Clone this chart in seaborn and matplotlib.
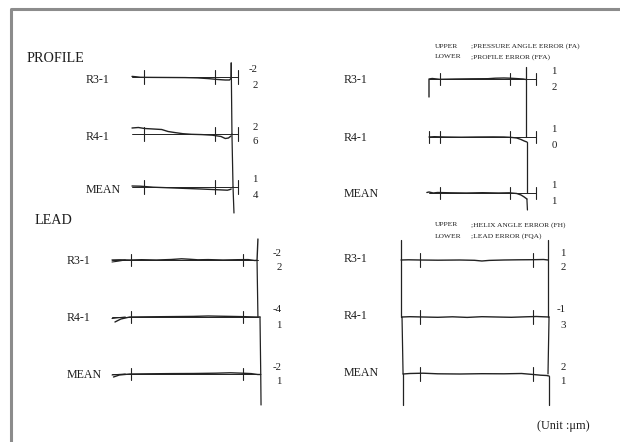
import numpy as np
import matplotlib
matplotlib.use("Agg")
import matplotlib.pyplot as plt
import seaborn as sns

# measured results (um), upper = angle error, lower = form error
ROWS = ["R3-1", "R4-1", "MEAN"]
PROF_L_FA = ["-2", "2", "1"]
PROF_L_FFA = ["2", "6", "4"]
PROF_R_FA = ["1", "1", "1"]
PROF_R_FFA = ["2", "0", "1"]
LEAD_L_FH = ["-2", "-4", "-2"]
LEAD_L_FQA = ["2", "1", "1"]
LEAD_R_FH = ["1", "-1", "2"]
LEAD_R_FQA = ["2", "3", "1"]

# traces: position along evaluation range (%) and deviation
PL_POS = [
    [0, 4, 8, 20, 35, 50, 62, 72, 80, 85, 88, 92, 93.4, 93.6],
    [0, 6, 12, 20, 28, 34, 40, 48, 56, 66, 76, 84, 88, 91, 93.4],
    [0, 8, 20, 35, 50, 65, 78, 86, 90, 92.5, 93.6],
]
PL_DEV = [
    [0.6, 0.2, -0.3, -0.4, -0.5, -0.6, -0.9, -1.6, -2.4, -2.8, -3.0, -3.0, -1.5, 14],
    [6, 6.5, 5.5, 5, 4.5, 2.5, 1.5, 0.3, -0.3, -0.6, -1.2, -2.5, -4.5, -4, -2],
    [1, 0.8, -0.2, -0.8, -1.4, -2, -2.6, -3, -3.2, -2.5, -2],
]
PR_POS = [
    [0, 0, 3, 10, 25, 40, 55, 62, 70, 76, 82, 88, 90.7],
    [0, 5, 15, 30, 45, 60, 70, 76, 82, 86, 89, 91.5],
    [-2, 0, 4, 8, 20, 35, 50, 65, 75, 82, 86, 89, 91.5],
]
PR_DEV = [
    [-18, 0, 0.5, -0.3, 0, 0.2, 0.3, 0.8, 1, 0.8, 0.4, 0, -0.5],
    [0, 0.3, 0, -0.2, 0, 0.1, 0, -0.3, -1, -2.5, -4, -5],
    [0.5, 1, 0, 0.5, 0.2, 0, 0.3, 0, 0.2, -0.5, -2, -4, -6],
]
LL_POS = [
    [0, 5, 12, 20, 30, 40, 47, 52, 58, 65, 75, 85, 92, 96.5, 98, 98.6],
    [2, 6, 12, 25, 40, 55, 65, 72, 80, 90, 97, 100],
    [1, 5, 12, 25, 40, 55, 70, 80, 88, 94, 98.5, 100.5],
]
LL_DEV = [
    [0, 0.2, 0, 0.3, 0, 0.5, 1.2, 0.8, 0.2, 0.4, 0, 0.3, 0.4, -0.5, -0.3, 21],
    [-5, -2, 0, 0.2, 0.4, 0.6, 1, 0.8, 0.6, 0.3, 0, 0],
    [-3, -1, 0, 0.2, 0.4, 0.5, 0.8, 1.2, 0.8, 0.4, -0.5, -0.5],
]
LR_POS = [
    [0, 5, 12.9, 25, 40, 50, 55, 60, 70, 80, 90, 97, 100],
    [0.7, 6, 15, 25, 35, 45, 55, 65, 75, 85, 92, 97, 100.7],
    [1.4, 6, 15, 25, 40, 55, 70, 82, 90, 95, 99, 100.7],
]
LR_DEV = [
    [0, 0.2, 0, -0.2, 0, -0.3, -1, -0.4, 0, 0.2, 0.3, 0.5, 0],
    [0, 0.3, 0, -0.3, 0.2, -0.4, 0.3, 0, -0.3, 0.2, 0.5, 0.2, 0],
    [0, 0.5, 0.8, 0.2, 0, 0.3, 0.2, 0.5, -0.5, -1.2, -1.5, -2],
]
PL_TICKS = [11.3, 78.3, 100]
PR_TICKS = [10.3, 75.7, 100]
LL_TICKS = [12.8, 88.5]
LR_TICKS = [12.9, 89.8]

HEAD_PROF = [";PRESSURE ANGLE ERROR (FA)", ";PROFILE ERROR (FFA)"]
HEAD_LEAD = [";HELIX ANGLE ERROR (FH)", ";LEAD ERROR (FQA)"]

# layout (pixels of the 620x442 sheet)
PANEL_X = {"pl": (132, 238), "pr": (429, 536), "ll": (112, 260), "lr": (401, 548)}
PANEL_BASE = {"pl": (77, 134, 187), "pr": (79, 137, 193), "ll": (260, 317, 374), "lr": (260, 317, 374)}
DEV_PX = 1.0
INK = "#222222"
TXT = "#1e1e1e"

sns.set_theme(style="white")
plt.rcParams["font.family"] = ["Liberation Serif", "DejaVu Serif"]

fig = plt.figure(figsize=(6.2, 4.42), dpi=100)
ax = fig.add_axes([0, 0, 1, 1])


def line(xs, ys, lw=0.9, color=INK):
    sns.lineplot(x=np.asarray(xs, float), y=np.asarray(ys, float), sort=False,
                 estimator=None, color=color, linewidth=lw, ax=ax, legend=False)


def to_xy(key, row, pos, dev):
    x0, x1 = PANEL_X[key]
    base = PANEL_BASE[key][row]
    return x0 + np.asarray(pos, float) / 100 * (x1 - x0), base - np.asarray(dev, float) * DEV_PX


def trace(key, row, pos, dev, lw=1.0):
    x, y = to_xy(key, row, pos, dev)
    line(x, y, lw)


def link(key, ra, pa, da, rb, pb, db):
    xa, ya = to_xy(key, ra, [pa], [da])
    xb, yb = to_xy(key, rb, [pb], [db])
    line([xa[0], xb[0]], [ya[0], yb[0]], 0.9)


def ticks(key, row, plist, h):
    for p in plist:
        trace(key, row, [p, p], [h, -h], 0.8)


# sheet frame
line([11, 11, 620], [442, 9, 9], lw=2.2, color="#8c8c8c")

for key, pos, dev, tk, h in [("pl", PL_POS, PL_DEV, PL_TICKS, 7), ("pr", PR_POS, PR_DEV, PR_TICKS, 6),
                             ("ll", LL_POS, LL_DEV, LL_TICKS, 6), ("lr", LR_POS, LR_DEV, LR_TICKS, 7)]:
    for r in range(3):
        trace(key, r, pos[r], dev[r])
        ticks(key, r, tk, h)

# reference lines
for r in range(3):
    trace("pl", r, [0, 100], [0, 0], 0.7)
    trace("pr", r, [0, 100], [0, 0], 0.7)
    trace("ll", r, [0, 98.6], [0, 0], 0.7)
trace("ll", 0, [0, 4, 9], [-2, -1.2, 0], 0.8)
trace("ll", 1, [0, 4, 9], [-1.5, -0.8, 0], 0.8)
trace("ll", 2, [0, 4, 9], [-1, -0.5, 0], 0.8)
ticks("pr", 1, [0], 6)

# connecting lines between rows
link("pl", 0, 93.6, 14, 1, 94.3, 0)
link("pl", 1, 94.3, 0, 2, 95.3, 0)
link("pl", 2, 95.3, 0, 2, 96.2, -26)
link("pr", 0, 90.7, 12, 1, 90.7, 0)
link("pr", 1, 91.5, -5, 2, 91.5, 0)
link("pr", 2, 91.5, -6, 2, 92, -17)
link("ll", 0, 98.0, -0.5, 1, 98.6, 0)
link("ll", 1, 100, 0, 2, 100.5, 0)
link("ll", 2, 100.5, -0.5, 2, 100.7, -31)
link("lr", 0, 0, 20, 1, 0, 0)
link("lr", 0, 100, 20, 1, 100, 0)
link("lr", 1, 0.7, 0, 2, 1.4, 0)
link("lr", 1, 100.7, 0, 2, 100, 0)
link("lr", 2, 1.4, 0, 2, 1.4, -31)
link("lr", 2, 100.7, -2, 2, 100.7, -31)

# titles
ax.text(27, 59, "PROFILE", fontsize=10.2, va="center", ha="left", color=TXT)
ax.text(35, 221, "LEAD", fontsize=10.2, va="center", ha="left", color=TXT)
for y, head in [(46, HEAD_PROF), (225, HEAD_LEAD)]:
    ax.text(435, y, "UPPER", fontsize=5.4, va="center", ha="left", color=TXT)
    ax.text(435, y + 11, "LOWER", fontsize=5.4, va="center", ha="left", color=TXT)
    ax.text(471, y, head[0], fontsize=5.4, va="center", ha="left", color=TXT)
    ax.text(471, y + 11, head[1], fontsize=5.4, va="center", ha="left", color=TXT)

# row labels and values
for key, lx, ly_off, vx, up, lo in [("pl", 86, 3, 258, PROF_L_FA, PROF_L_FFA),
                                    ("pr", 344, 1, 557, PROF_R_FA, PROF_R_FFA),
                                    ("ll", 67, 1, 282, LEAD_L_FH, LEAD_L_FQA),
                                    ("lr", 344, -1, 566, LEAD_R_FH, LEAD_R_FQA)]:
    for r, name in enumerate(ROWS):
        b = PANEL_BASE[key][r]
        ax.text(lx, b + ly_off, name, fontsize=8.6, va="center", ha="left", color=TXT)
        ax.text(vx, b - 7, up[r], fontsize=7.8, va="center", ha="right", color=TXT)
        ax.text(vx, b + 8, lo[r], fontsize=7.8, va="center", ha="right", color=TXT)

ax.text(590, 426, "(Unit :\u03bcm)", fontsize=8.8, va="center", ha="right", color=TXT)

ax.set_xlim(0, 620)
ax.set_ylim(442, 0)
ax.axis("off")
fig.savefig("out.png", dpi=100, facecolor="white")
